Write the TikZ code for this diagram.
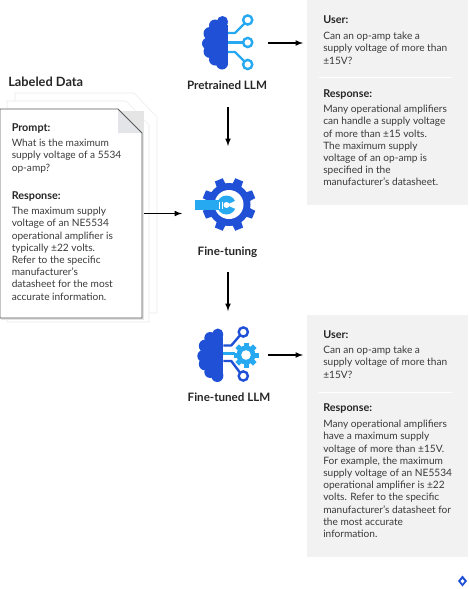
\documentclass[tikz,border=0pt]{standalone}
\usepackage{fontspec}
\setmainfont{Lato}
\definecolor{brainblue}{HTML}{1F50D6}
\definecolor{wireblue}{HTML}{27A9F1}
\definecolor{panelgrey}{HTML}{F2F2F2}
\definecolor{foldgrey}{HTML}{E4E5E8}
\definecolor{inkgrey}{HTML}{3A3A3A}
\newcommand{\drawBrain}[1]{%
    \foreach \cx/\cy/\r in {-5.5/-21/5.5,-13/-17/6,-18/-9/6.5,-20/1/6,-18/9/6.5,-13/17/6,-6/21/6} {
        \fill[#1] (\cx,\cy) circle (\r);
    }
    \fill[#1] (-16,-18) rectangle (0,21);
    \fill[#1] (-5.5,-26.5) -- (-5.5,-20) -- (0,-20) arc (0:90:5.5) -- cycle;
    \fill[#1] (-6,27) -- (-6,20) -- (0,20) arc (0:-90:6) -- cycle;
}
\newcommand{\drawGear}[5]{%
    \fill[#5] (#1)
    \foreach \i in {1,...,#4} {
        \pgfextra{\pgfmathsetmacro{\ga}{(\i-1)*360/#4+22.5-13}
        \pgfmathsetmacro{\gb}{(\i-1)*360/#4+22.5-9}
        \pgfmathsetmacro{\gc}{(\i-1)*360/#4+22.5+9}
        \pgfmathsetmacro{\gd}{(\i-1)*360/#4+22.5+13}}
        ++(0,0) -- ([shift={(\ga:#3)}]#1) -- ([shift={(\gb:#2)}]#1) -- ([shift={(\gc:#2)}]#1) -- ([shift={(\gd:#3)}]#1) -- (#1)
    };
}
\tikzset{
    headtext/.style={anchor=west,inner sep=0pt,font=\fontsize{8.1}{9}\selectfont\bfseries,text=black!85},
    bodytext/.style={anchor=north west,inner sep=0pt,align=left,font=\fontsize{7.6}{9.15}\selectfont,text=inkgrey},
    icontext/.style={inner sep=0pt,font=\fontsize{8.7}{10}\selectfont\bfseries,text=black!85},
    panel/.style={anchor=north west,fill=panelgrey,inner sep=0pt,outer sep=3pt},
    hold/.style={inner sep=0pt,outer sep=0pt},
    flow/.style={-latex,line width=0.9pt,black},
    sheet/.style={draw=black!8,fill=white,line width=0.4pt},
    wire/.style={line width=1.8pt,#1},
    ring/.style={line width=1.8pt,draw=#1,fill=white}
}
\begin{document}
\begin{tikzpicture}[x=0.75pt,y=-0.75pt]
\useasboundingbox (0,0) rectangle (468,589);

% answer panels
\node[panel,minimum width=120.75pt,minimum height=153.75pt] (firstpanel) at (303,-4) {};
\draw[white,line width=0.5pt] (319,77) -- (452,77);
\node[headtext] (firstuser) at (323,20) {User:};
\node[bodytext] (firstquestion) at (323,32) {Can an op-amp take a\\supply voltage of more than\\±15V?};
\node[headtext] (firstresponse) at (323,94) {Response:};
\node[bodytext] (firstanswer) at (323,105) {Many operational amplifiers\\can handle a supply voltage\\of more than ±15 volts.\\The maximum supply\\voltage of an op-amp is\\specified in the\\manufacturer's datasheet.};

\node[panel,minimum width=120.75pt,minimum height=181.5pt] (secondpanel) at (303,311) {};
\draw[white,line width=0.5pt] (319,392) -- (452,392);
\node[headtext] (seconduser) at (323,335) {User:};
\node[bodytext] (secondquestion) at (323,346) {Can an op-amp take a\\supply voltage of more than\\±15V?};
\node[headtext] (secondresponse) at (323,408) {Response:};
\node[bodytext] (secondanswer) at (323,420) {Many operational amplifiers\\have a maximum supply\\voltage of more than ±15V.\\For example, the maximum\\supply voltage of an NE5534\\operational amplifier is ±22\\volts. Refer to the specific\\manufacturer's datasheet for\\the most accurate\\information.};

% labeled data sheets
\node[headtext,font=\fontsize{9.6}{10}\selectfont\bfseries] (datatitle) at (8,82) {Labeled Data};
\draw[sheet] (15,93) -- (134,93) -- (157,117) -- (157,313) -- (15,313) -- cycle;
\draw[sheet] (7,101) -- (126,101) -- (149,125) -- (149,322) -- (7,322) -- cycle;
\fill[black!10] (1,111) rectangle (143.5,319.5);
\fill[white] (0,109) -- (118,109) -- (142,133) -- (142,318) -- (0,318) -- cycle;
\fill[foldgrey] (118,109) -- (118,133) -- (142,133) -- cycle;
\draw[black!65,line width=0.6pt] (0,109) -- (118,109) -- (142,133) -- (142,318) -- (0,318) -- cycle;
\node[hold,minimum width=108pt,minimum height=156.75pt,anchor=north west] (datasheet) at (0,109) {};
\node[headtext] (dataprompt) at (11.5,128) {Prompt:};
\node[bodytext] (dataquestion) at (11.5,139) {What is the maximum\\supply voltage of a 5534\\op-amp?};
\node[headtext] (dataresponse) at (11.5,196) {Response:};
\node[bodytext] (dataanswer) at (11.5,207) {The maximum supply\\voltage of an NE5534\\operational amplifier is\\typically ±22 volts.\\Refer to the specific\\manufacturer's\\datasheet for the most\\accurate information.};

% pretrained model
\begin{scope}[shift={(228,42.5)}]
    \drawBrain{brainblue}
    \draw[wire=wireblue,line join=round] (0,-9.5) -- (7,-9.5) -- (17,-19.5);
    \draw[wire=wireblue] (0,0) -- (16,0);
    \draw[wire=wireblue,line join=round] (0,9.5) -- (7,9.5) -- (17,19.5);
    \foreach \cy in {-22.5,0,22} {\draw[ring=wireblue] (19.7,\cy) circle (4.6);}
\end{scope}
\node[hold,minimum width=60pt,minimum height=33pt] (pretrained) at (228,43) {};
\node[icontext,minimum height=33pt] (pretrainedname) at (227,85) {Pretrained LLM};

% fine-tuning gear
\coordinate (gearcentre) at (229,204.5);
\drawGear{gearcentre}{27}{21}{8}{brainblue}
\fill[brainblue] (gearcentre) circle (21.5);
\fill[white] (gearcentre) circle (14.5);
\fill[wireblue] (195,200) rectangle (222,210);
\fill[wireblue] (226.5,205) circle (9.5);
\fill[white] (226.5,205) -- (237,200) -- (238,210) -- cycle;
\fill[white] (226.5,205) circle (3);
\foreach \tx in {219,222} {\draw[white,line width=0.5pt] (\tx,201.5) -- (\tx,208.5);}
\node[hold,minimum width=69pt,minimum height=87pt] (finetuning) at (228,204) {};
\node[icontext,minimum height=30pt] (finetuningname) at (227.5,252) {Fine-tuning};

% fine-tuned model
\begin{scope}[shift={(223.3,355)}]
    \drawBrain{brainblue}
    \draw[wire=brainblue,line join=round] (0,-9.5) -- (8,-9.5) -- (17,-20);
    \draw[wire=brainblue,line join=round] (0,6) -- (8,6) -- (17,18);
    \foreach \cy in {-23,21} {\draw[ring=brainblue] (20,\cy) circle (4.6);}
    \draw[wire=wireblue,line width=2.6pt] (0,-1.5) -- (12,-1.5);
\end{scope}
\coordinate (smallgear) at (246,355);
\fill[wireblue] (smallgear) circle (9.5);
\foreach \a in {0,45,...,315} {\fill[wireblue,rotate around={\a:(smallgear)}] (243.5,342.5) rectangle (248.5,348);}
\fill[white] (smallgear) circle (4.8);
\node[hold,minimum width=60pt,minimum height=66pt] (finetuned) at (228,355) {};
\node[icontext,minimum height=30pt] (finetunedname) at (229,397) {Fine-tuned LLM};

% connectors
\draw[flow] (pretrained.east) -- (pretrained.east -| firstpanel.west);
\draw[flow] (pretrainedname.south -| finetuning.north) -- (finetuning.north);
\draw[flow] (finetuning.west |- datasheet.east) ++(-38,0) -- (finetuning.west |- datasheet.east);
\draw[flow] (finetuningname.south -| finetuned.north) -- (finetuned.north);
\draw[flow] (finetuned.east) -- (finetuned.east -| secondpanel.west);

% corner mark
\fill[brainblue] (462.5,575.5) -- (467,581) -- (462.5,586.5) -- (458,581) -- cycle;
\fill[white] (462.5,579) -- (464.5,581) -- (462.5,583.5) -- (460.5,581) -- cycle;
\end{tikzpicture}
\end{document}
